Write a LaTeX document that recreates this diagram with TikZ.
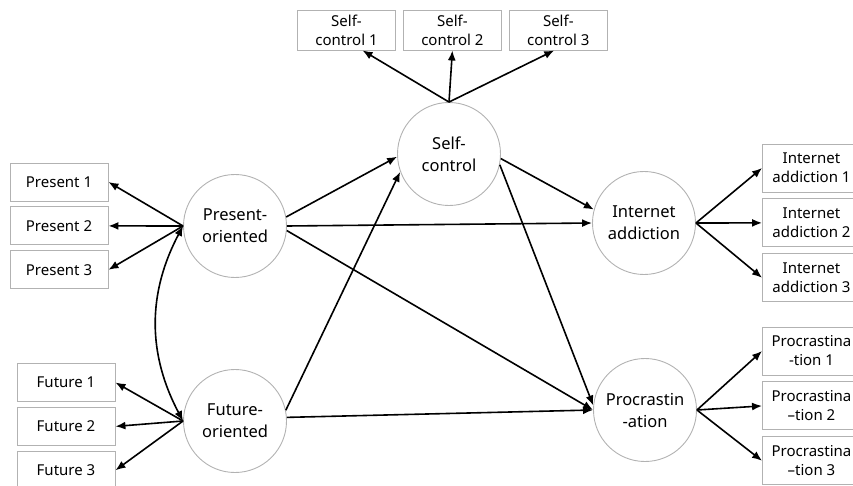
\documentclass[tikz,border=0pt]{standalone}
\usepackage{fontspec}
\setmainfont{Noto Sans}
\usetikzlibrary{positioning, arrows.meta}

\tikzset{
    latent/.style={draw=gray!60, line width=0.9pt, circle, minimum size=103pt, inner sep=0pt,
                   align=center, font=\fontsize{16.5}{22}\selectfont},
    item/.style={draw=gray!60, line width=0.9pt, rectangle, minimum width=98pt, minimum height=38pt,
                 inner sep=1pt, align=center, font=\fontsize{15}{19}\selectfont},
    tall item/.style={item, minimum height=48pt},
    link/.style={-{Latex[length=10pt, width=8pt]}, line width=1.6pt},
}

\begin{document}
\begin{tikzpicture}[x=1pt, y=-1pt]
    \clip (0,0) rectangle (853,486);

    % latent variables
    \node[latent] (po) at (235,226) {Present-\\oriented};
    \node[latent] (fo) at (235,421) {Future-\\oriented};
    \node[latent] (sc) at (449,154) {Self-\\control};
    \node[latent] (ia) at (644,223) {Internet\\addiction};
    \node[latent] (pr) at (645,410) {Procrastin\\-ation};

    % indicators
    \node[item] (p1) at (59,182) {Present 1};
    \node[item, below=5pt of p1] (p2) {Present 2};
    \node[item, below=5pt of p2] (p3) {Present 3};
    \node[item] (f1) at (66,382.5) {Future 1};
    \node[item, below=5pt of f1] (f2) {Future 2};
    \node[item, below=5pt of f2] (f3) {Future 3};
    \node[item, minimum height=40pt] (s1) at (346.5,30) {Self-\\control 1};
    \node[item, minimum height=40pt, right=7pt of s1] (s2) {Self-\\control 2};
    \node[item, minimum height=40pt, right=7pt of s2] (s3) {Self-\\control 3};
    \node[tall item] (i1) at (811.5,168) {Internet\\addiction 1};
    \node[tall item, below=6pt of i1] (i2) {Internet\\addiction 2};
    \node[tall item, below=6pt of i2] (i3) {Internet\\addiction 3};
    \node[tall item] (q1) at (811.5,351) {Procrastina\\-tion 1};
    \node[tall item, below=6pt of q1] (q2) {Procrastina\\--tion 2};
    \node[tall item, below=6pt of q2] (q3) {Procrastina\\--tion 3};

    % measurement
    \draw[link] (po.west) -- (p1.east);
    \draw[link] (po.west) -- (p2.east);
    \draw[link] (po.west) -- (p3.east);
    \draw[link] (fo.west) -- (f1.east);
    \draw[link] (fo.west) -- (f2.east);
    \draw[link] (fo.west) -- (f3.east);
    \draw[link] (sc.north) -- ([xshift=16pt]s1.south);
    \draw[link] (sc.north) -- (s2.south);
    \draw[link] (sc.north) -- ([xshift=-4pt]s3.south);
    \draw[link] (ia.east) -- (i1.west);
    \draw[link] (ia.east) -- (i2.west);
    \draw[link] (ia.east) -- (i3.west);
    \draw[link] (pr.east) -- (q1.west);
    \draw[link] (pr.east) -- (q2.west);
    \draw[link] (pr.east) -- (q3.west);

    % structural paths
    \draw[{Latex[length=10pt, width=8pt]}-{Latex[length=10pt, width=8pt]}, line width=1.6pt]
        (po.west) to[bend right=28] (fo.west);
    \draw[link] (po.10) -- (sc.183);
    \draw[link] (po.east) -- (ia.west);
    \draw[link] (po.-5) -- (pr.west);
    \draw[link] (fo.12) -- (sc.200);
    \draw[link] (fo.4) -- (pr.west);
    \draw[link] (sc.-5) -- (ia.165);
    \draw[link] (sc.-12) -- (pr.175);
\end{tikzpicture}
\end{document}
